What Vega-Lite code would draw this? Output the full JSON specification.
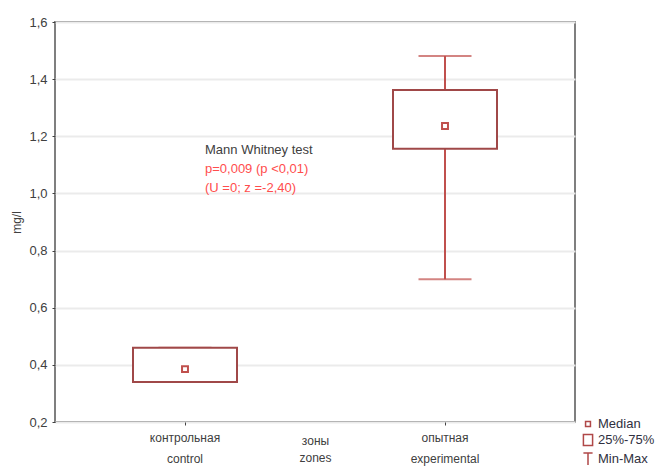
{
  "$schema": "https://vega.github.io/schema/vega-lite/v6.json",
  "autosize": "none",
  "width": 520,
  "height": 400,
  "padding": {"left": 55, "top": 22, "right": 85, "bottom": 45},
  "background": "white",
  "config": {
    "font": "Liberation Sans",
    "view": {"stroke": "#7f7f7f", "strokeWidth": 2},
    "axis": {"labelColor": "#404040", "titleColor": "#404040", "labelFont": "Liberation Sans", "titleFont": "Liberation Sans"}
  },
  "datasets": {
    "stats": [
      {"zone": "контрольная|control", "min": 0.34, "q1": 0.34, "median": 0.385, "q3": 0.46, "max": 0.46},
      {"zone": "опытная|experimental", "min": 0.70, "q1": 1.156, "median": 1.236, "q3": 1.362, "max": 1.481}
    ],
    "notes": [
      {"zone": "контрольная|control", "y": 1.152, "label": "Mann Whitney test", "kind": "head"},
      {"zone": "контрольная|control", "y": 1.084, "label": "p=0,009 (p <0,01)", "kind": "stat"},
      {"zone": "контрольная|control", "y": 1.018, "label": "(U =0; z =-2,40)", "kind": "stat"}
    ]
  },
  "layer": [
    {
      "data": {"name": "stats"},
      "mark": {"type": "rule", "color": "#c0504d", "strokeWidth": 2},
      "encoding": {
        "x": {
          "field": "zone", "type": "nominal", "sort": null,
          "scale": {"type": "band", "paddingInner": 0, "paddingOuter": 0},
          "axis": {
            "title": ["зоны", "zones"], "titleFontSize": 12, "titleFontWeight": "normal", "titleLineHeight": 17, "titlePadding": -29,
            "labelExpr": "split(datum.value, '|')", "labelAngle": 0, "labelFontSize": 12, "labelLineHeight": 21, "labelPadding": 7,
            "tickSize": 3, "tickColor": "#404040", "domain": false
          }
        },
        "y": {
          "field": "min", "type": "quantitative",
          "scale": {"domain": [0.2, 1.6], "nice": false, "zero": false},
          "axis": {
            "title": "mg/l", "titleFontSize": 12, "titleFontWeight": "normal", "titlePadding": 5,
            "values": [0.2, 0.4, 0.6, 0.8, 1.0, 1.2, 1.4, 1.6],
            "labelExpr": "replace(format(datum.value, '.1f'), '.', ',')",
            "labelFontSize": 13, "labelPadding": 5, "tickSize": 3, "tickColor": "#404040",
            "domain": false, "gridColor": "#ebebeb", "gridWidth": 2
          }
        },
        "y2": {"field": "max"}
      }
    },
    {
      "data": {"name": "stats"},
      "mark": {"type": "tick", "color": "#c0504d", "size": 53, "thickness": 2},
      "encoding": {
        "x": {"field": "zone", "type": "nominal", "sort": null},
        "y": {"field": "min", "type": "quantitative"}
      }
    },
    {
      "data": {"name": "stats"},
      "mark": {"type": "tick", "color": "#c0504d", "size": 53, "thickness": 2},
      "encoding": {
        "x": {"field": "zone", "type": "nominal", "sort": null},
        "y": {"field": "max", "type": "quantitative"}
      }
    },
    {
      "data": {"name": "stats"},
      "mark": {"type": "bar", "fill": "white", "stroke": "#a04848", "strokeWidth": 2, "size": 104},
      "encoding": {
        "x": {"field": "zone", "type": "nominal", "sort": null},
        "y": {"field": "q1", "type": "quantitative"},
        "y2": {"field": "q3"}
      }
    },
    {
      "data": {"name": "stats"},
      "mark": {"type": "point", "filled": false, "color": "#c0504d", "strokeWidth": 2, "size": 220, "opacity": 1},
      "encoding": {
        "x": {"field": "zone", "type": "nominal", "sort": null},
        "y": {"field": "median", "type": "quantitative"},
        "shape": {
          "datum": "Median",
          "scale": {
            "domain": ["Median", "25%-75%", "Min-Max"],
            "range": ["M-0.4,-0.4H0.4V0.4H-0.4Z", "M-0.75,-0.9H0.75V0.9H-0.75Z", "M-0.75,-1H0.75M0,-1V1"]
          },
          "legend": {
            "title": null, "orient": "none", "legendX": 526, "legendY": 395,
            "symbolSize": 150, "symbolStrokeWidth": 1.5, "symbolStrokeColor": "#b04848", "symbolFillColor": "transparent",
            "labelFontSize": 13, "labelColor": "#303040", "labelOffset": 3, "rowPadding": 0, "symbolOpacity": 1
          }
        }
      }
    },
    {
      "data": {"name": "notes"},
      "mark": {"type": "text", "align": "left", "baseline": "middle", "dx": 20, "fontSize": 13},
      "encoding": {
        "x": {"field": "zone", "type": "nominal", "sort": null},
        "y": {"field": "y", "type": "quantitative"},
        "text": {"field": "label"},
        "color": {
          "field": "kind", "type": "nominal",
          "scale": {"domain": ["head", "stat"], "range": ["#404040", "#ff4d4d"]},
          "legend": null
        }
      }
    }
  ]
}
